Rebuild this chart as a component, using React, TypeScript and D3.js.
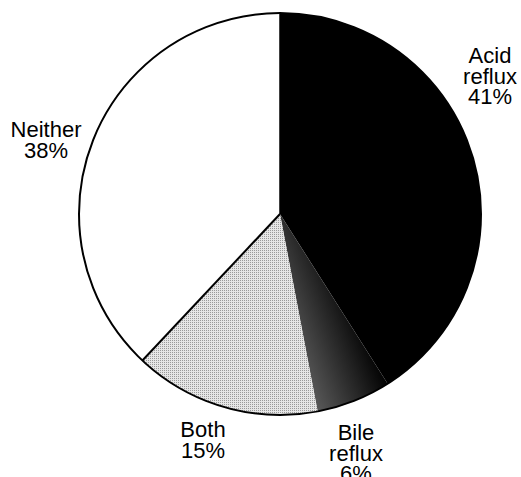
import React from "react";
import * as d3 from "d3";

const categories = ["Acid reflux", "Bile reflux", "Both", "Neither"];
const values = [41, 6, 15, 38];
const labelLines = [["Acid", "reflux", "41%"], ["Bile", "reflux", "6%"], ["Both", "15%"], ["Neither", "38%"]];
const labelPos = [
  { x: 490, y: 63 },
  { x: 356, y: 440 },
  { x: 203, y: 437 },
  { x: 46, y: 137 },
];

const W = 521, H = 477;
const cx = 280, cy = 214, R = 201;

export default function App() {
  const pie = d3.pie<number>().sort(null).startAngle(0).endAngle(2 * Math.PI);
  const arcs = pie(values);
  const arc = d3.arc<d3.PieArcDatum<number>>().innerRadius(0).outerRadius(R);
  const fills = ["#000", "url(#bileGrad)", "url(#bothPat)", "#fff"];
  const a = arcs[3].startAngle;
  const dx = R * Math.sin(a), dy = -R * Math.cos(a);
  return (
    <svg width={W} height={H} style={{ position: "absolute", left: 0, top: 0 }}>
      <defs>
        <linearGradient id="bileGrad" gradientUnits="userSpaceOnUse" x1={22} y1={175} x2={100} y2={145}>
          <stop offset="0" stopColor="#606060" />
          <stop offset="0.5" stopColor="#303030" />
          <stop offset="1" stopColor="#000" />
        </linearGradient>
        <pattern id="bothPat" patternUnits="userSpaceOnUse" width="2" height="2">
          <rect width="2" height="2" fill="#e6e6e6" />
          <rect width="1" height="1" fill="#9a9a9a" />
        </pattern>
      </defs>
      <g transform={`translate(${cx},${cy})`}>
        {arcs.map((d, i) => (
          <path key={categories[i]} d={arc(d) || ""} fill={fills[i]} stroke="none" />
        ))}
        <line x1={0} y1={0} x2={dx} y2={dy} stroke="#000" strokeWidth={2} />
        <line x1={0} y1={0} x2={0} y2={-R} stroke="#000" strokeWidth={1.5} />
        <circle r={R} fill="none" stroke="#000" strokeWidth={2} />
      </g>
      {labelLines.map((lines, i) => (
        <text key={categories[i]} x={labelPos[i].x} y={labelPos[i].y} textAnchor="middle"
          fontFamily="Liberation Sans, Arial, sans-serif" fontSize={22} fill="#000">
          {lines.map((t, j) => (
            <tspan key={j} x={labelPos[i].x} dy={j === 0 ? 0 : 20.5}>{t}</tspan>
          ))}
        </text>
      ))}
    </svg>
  );
}
